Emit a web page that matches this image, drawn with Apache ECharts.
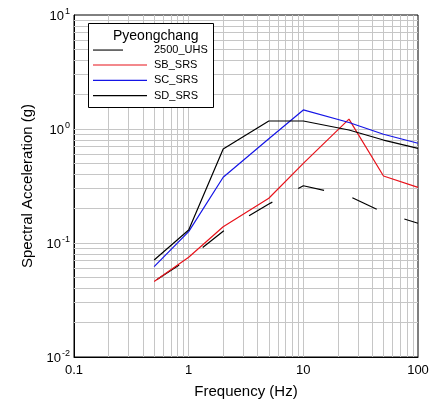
<!DOCTYPE html>
<html>
<head>
<meta charset="utf-8">
<script src="https://cdn.jsdelivr.net/npm/echarts@6/dist/echarts.min.js"></script>
<style>html,body{margin:0;padding:0;background:#fff}#c{width:435px;height:407px}</style>
</head>
<body>
<div id="c"></div>
<script>
var freq = [0.5, 1, 2, 5, 10, 25, 50, 100];
var uhs2500 = [0.046, 0.073, 0.127, 0.22, 0.318, 0.258, 0.185, 0.149];
var sbSRS = [0.046, 0.075, 0.139, 0.247, 0.50, 1.22, 0.387, 0.308];
var scSRS = [0.062, 0.126, 0.377, 0.82, 1.47, 1.14, 0.90, 0.75];
var sdSRS = [0.071, 0.130, 0.668, 1.175, 1.175, 0.98, 0.80, 0.676];
var seriesNames = ['2500_UHS', 'SB_SRS', 'SC_SRS', 'SD_SRS'];
var legendTitle = 'Pyeongchang';
var xTickLabels = ['0.1', '1', '10', '100'];

function pairs(ys) { return freq.map(function (f, i) { return [f, ys[i]]; }); }

var FONT = 'Liberation Sans, Arial, sans-serif';
var gridColor = '#c6c6c6';

var xGrid = [], yGrid = [];
[0.1, 1, 10].forEach(function (d) {
  for (var m = 1; m <= 9; m++) { var v = +(d * m).toPrecision(3); if (v > 0.1 && v < 100) xGrid.push({xAxis: v}); }
});
[0.01, 0.1, 1].forEach(function (d) {
  for (var m = 1; m <= 9; m++) { var v = +(d * m).toPrecision(3); if (v > 0.01 && v < 10) yGrid.push({yAxis: v}); }
});

var chart = echarts.init(document.getElementById('c'), null, {renderer: 'canvas'});
var lw = 1.2;
var legendText = {fontFamily: FONT, fontSize: 11, color: '#000', lineHeight: 15.3};
chart.setOption({
  animation: false,
  backgroundColor: '#fff',
  textStyle: {fontFamily: FONT},
  grid: {left: 74, top: 15, right: 17, bottom: 50, show: true, borderColor: '#000', borderWidth: 1, backgroundColor: 'transparent'},
  title: {text: legendTitle, left: 113, top: 29, padding: 0, z: 20,
    textStyle: {fontFamily: FONT, fontSize: 14, fontWeight: 'normal', color: '#000'}},
  graphic: [{type: 'rect', z: 10, shape: {x: 88.5, y: 23.5, width: 125, height: 84},
    style: {fill: '#fff', stroke: '#000', lineWidth: 1}}],
  legend: [
    {data: [seriesNames[0]], orient: 'vertical', left: 93, top: 42.4, padding: 0, itemGap: 0, z: 20,
      itemWidth: 30, itemHeight: 1.1, icon: 'rect',
      textStyle: Object.assign({}, legendText, {padding: [0, 0, 0, 26]})},
    {data: seriesNames.slice(1), orient: 'vertical', left: 93, top: 57.4, padding: 0, itemGap: 0, z: 20,
      itemWidth: 54, itemHeight: 1.1, icon: 'rect',
      textStyle: Object.assign({}, legendText, {padding: [0, 0, 0, 2]})}
  ],
  xAxis: {
    type: 'log', logBase: 10, min: 0.1, max: 100,
    name: 'Frequency (Hz)', nameLocation: 'middle', nameGap: 27,
    nameTextStyle: {fontFamily: FONT, fontSize: 15, color: '#000'},
    axisLine: {show: true, lineStyle: {color: '#000', width: 1}},
    axisTick: {show: false},
    splitLine: {show: false},
    axisLabel: {margin: 7, fontFamily: FONT, fontSize: 13, color: '#000',
      formatter: function (v) { var i = Math.round(Math.log10(v)) + 1; return xTickLabels[i] !== undefined ? xTickLabels[i] : ''; }}
  },
  yAxis: {
    type: 'log', logBase: 10, min: 0.01, max: 10,
    name: 'Spectral Acceleration (g)', nameLocation: 'middle', nameGap: 38,
    nameTextStyle: {fontFamily: FONT, fontSize: 15, color: '#000'},
    axisLine: {show: true, lineStyle: {color: '#000', width: 1}},
    axisTick: {show: false},
    splitLine: {show: false},
    axisLabel: {margin: 4, fontFamily: FONT, color: '#000',
      formatter: function (v) { return '{b|10}{s|' + Math.round(Math.log10(v)) + '}'; },
      rich: {b: {fontSize: 13, fontFamily: FONT, color: '#000', lineHeight: 16, verticalAlign: 'bottom'},
             s: {fontSize: 9, fontFamily: FONT, color: '#000', lineHeight: 10, verticalAlign: 'top', padding: [0, 0, 0, 1]}}}
  },
  series: [
    {type: 'line', name: '_grid', data: [], silent: true, z: 1,
      markLine: {silent: true, z: 1, symbol: 'none', label: {show: false}, animation: false,
        lineStyle: {color: gridColor, width: 1, type: 'solid'},
        data: xGrid.concat(yGrid)}},
    {type: 'line', name: seriesNames[0], data: pairs(uhs2500), symbol: 'none', z: 3,
      color: '#000', lineStyle: {color: '#000', width: lw, type: [27, 29.3], dashOffset: -3}},
    {type: 'line', name: seriesNames[1], data: pairs(sbSRS), symbol: 'none', z: 3,
      color: '#e8131b', lineStyle: {color: '#e8131b', width: lw}},
    {type: 'line', name: seriesNames[2], data: pairs(scSRS), symbol: 'none', z: 3,
      color: '#1515e6', lineStyle: {color: '#1515e6', width: lw}},
    {type: 'line', name: seriesNames[3], data: pairs(sdSRS), symbol: 'none', z: 3,
      color: '#000', lineStyle: {color: '#000', width: lw}}
  ]
});
</script>
</body>
</html>
